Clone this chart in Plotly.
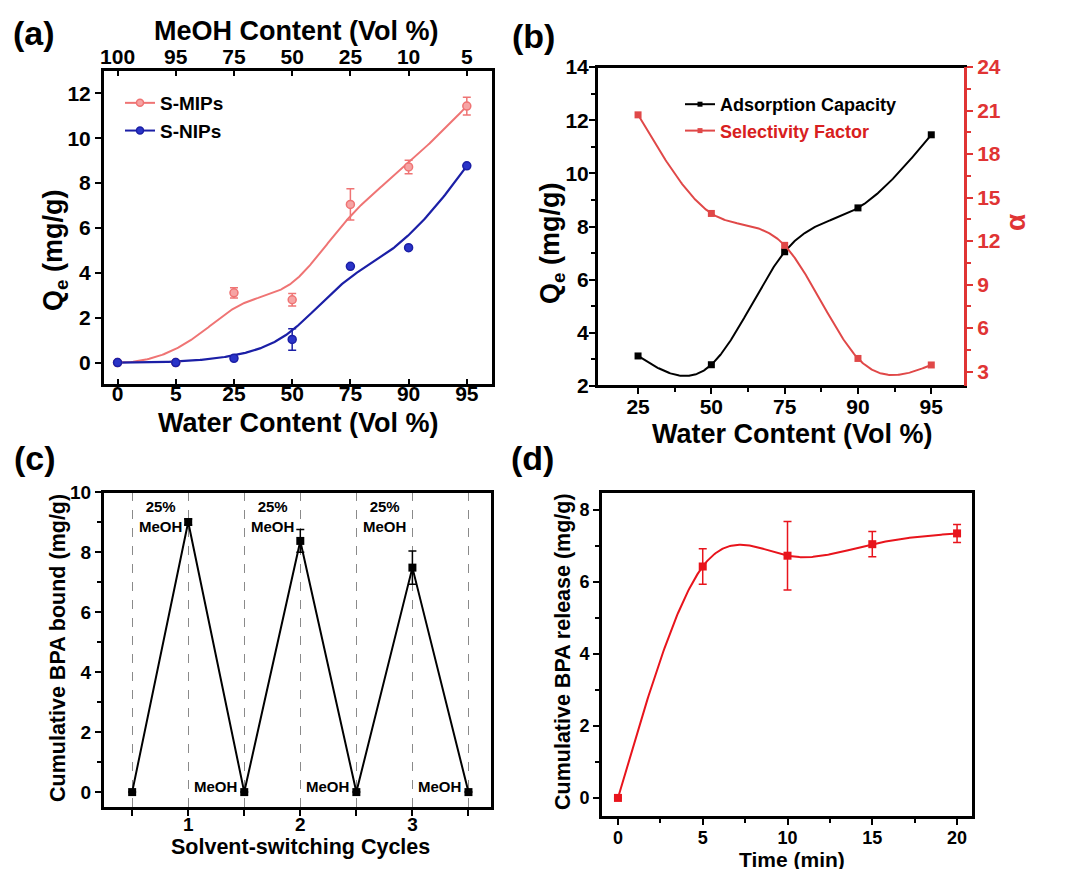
import numpy as np
import plotly.graph_objects as go

# ---------------- data ----------------
# (a)
water_a = ["0", "5", "25", "50", "75", "90", "95"]
meoh_a = ["100", "95", "75", "50", "25", "10", "5"]
mips = [0.0, 0.0, 3.11, 2.80, 7.05, 8.72, 11.43]
mips_err = [0.0, 0.0, 0.23, 0.28, 0.70, 0.30, 0.40]
nips = [0.0, 0.0, 0.19, 1.03, 4.29, 5.12, 8.77]
nips_err = [0.0, 0.0, 0.08, 0.48, 0.0, 0.0, 0.0]

# (b)
water_b = ["25", "50", "75", "90", "95"]
ads_cap = [3.13, 2.80, 7.05, 8.70, 11.45]
sel_factor = [20.7, 13.9, 11.7, 3.9, 3.45]

# (c)
cycle_x = [0.5, 1.0, 1.5, 2.0, 2.5, 3.0, 3.5]
bpa_bound = [0.0, 9.0, 0.0, 8.37, 0.0, 7.48, 0.0]
bpa_bound_err = [0.0, 0.1, 0.0, 0.38, 0.0, 0.55, 0.0]
cycle_ticks = ["", "1", "", "2", "", "3", ""]

# (d)
time_min = [0, 5, 10, 15, 20]
bpa_release = [0.0, 6.43, 6.73, 7.05, 7.35]
bpa_release_err = [0.0, 0.49, 0.95, 0.35, 0.25]

# ---------------- helpers ----------------
FONT = "Liberation Sans, Arial, Helvetica, sans-serif"
W, H = 1065, 869


def px(x):
    return x / W


def py(y):
    return 1 - y / H


def natural_spline(x, y, n=300):
    x = np.asarray(x, float)
    y = np.asarray(y, float)
    N = len(x)
    h = np.diff(x)
    A = np.zeros((N, N))
    b = np.zeros(N)
    A[0, 0] = A[-1, -1] = 1
    for i in range(1, N - 1):
        A[i, i - 1] = h[i - 1]
        A[i, i] = 2 * (h[i - 1] + h[i])
        A[i, i + 1] = h[i]
        b[i] = 6 * ((y[i + 1] - y[i]) / h[i] - (y[i] - y[i - 1]) / h[i - 1])
    M = np.linalg.solve(A, b)
    xs = np.linspace(x[0], x[-1], n)
    idx = np.clip(np.searchsorted(x, xs) - 1, 0, N - 2)
    x0, x1 = x[idx], x[idx + 1]
    hh = x1 - x0
    ys = (M[idx] * (x1 - xs) ** 3 + M[idx + 1] * (xs - x0) ** 3) / (6 * hh) \
        + (y[idx] / hh - M[idx] * hh / 6) * (x1 - xs) \
        + (y[idx + 1] / hh - M[idx + 1] * hh / 6) * (xs - x0)
    return xs, ys


def bspline(pxs, pys, n=300, k=3):
    P = np.column_stack([pxs, pys]).astype(float)
    m = len(P)
    knots = np.concatenate([np.zeros(k), np.arange(m - k + 1), np.full(k, m - k)]).astype(float)
    ts = np.linspace(0, m - k, n)
    ts[-1] -= 1e-9
    out = []
    for t in ts:
        Nb = np.array([1.0 if knots[i] <= t < knots[i + 1] else 0.0 for i in range(len(knots) - 1)])
        for d in range(1, k + 1):
            Nn = np.zeros(len(knots) - 1 - d)
            for i in range(len(Nn)):
                a = 0.0
                c = 0.0
                if knots[i + d] != knots[i]:
                    a = (t - knots[i]) / (knots[i + d] - knots[i]) * Nb[i]
                if knots[i + d + 1] != knots[i + 1]:
                    c = (knots[i + d + 1] - t) / (knots[i + d + 1] - knots[i + 1]) * Nb[i + 1]
                Nn[i] = a + c
            Nb = Nn
        out.append(Nb @ P)
    out = np.array(out)
    return out[:, 0], out[:, 1]


def tf(size, color="black"):
    return dict(family=FONT, size=size, color=color, weight="bold")


def ax(**kw):
    base = dict(showline=True, linecolor="black", linewidth=2, ticks="outside", ticklen=6,
                tickwidth=2, tickcolor="black", showgrid=False, zeroline=False,
                automargin=False, tickfont=tf(21))
    base.update(kw)
    return base


PINK = "#ef7474"
PINK_FILL = "#f6a4a4"
BLUE = "#1b1fa6"
RED_B = "#e04848"
RED_AX = "#e03434"
RED_D = "#e8141c"

fig = go.Figure()

# ---------------- (a) ----------------
idx_a = list(range(len(water_a)))
bx, by = bspline(idx_a, mips)
fig.add_trace(go.Scatter(x=bx, y=by, mode="lines", line=dict(color=PINK, width=2),
                         xaxis="x", yaxis="y", showlegend=False, hoverinfo="skip"))
bx2, by2 = bspline(idx_a, nips)
fig.add_trace(go.Scatter(x=bx2, y=by2, mode="lines", line=dict(color=BLUE, width=2.2),
                         xaxis="x", yaxis="y", showlegend=False, hoverinfo="skip"))
fig.add_trace(go.Scatter(x=idx_a, y=mips, mode="markers",
                         marker=dict(symbol="circle", size=8, color=PINK_FILL, line=dict(color=PINK, width=1.5)),
                         error_y=dict(type="data", array=mips_err, color=PINK, thickness=1.5, width=4),
                         xaxis="x", yaxis="y", showlegend=False))
fig.add_trace(go.Scatter(x=idx_a, y=nips, mode="markers",
                         marker=dict(symbol="circle", size=8, color="#2a34c8", line=dict(color=BLUE, width=1.5)),
                         error_y=dict(type="data", array=nips_err, color=BLUE, thickness=1.5, width=4),
                         xaxis="x", yaxis="y", showlegend=False))
# legend entries
fig.add_trace(go.Scatter(x=[None], y=[None], mode="lines+markers", name="S-MIPs",
                         line=dict(color=PINK, width=2),
                         marker=dict(symbol="circle", size=7, color=PINK_FILL, line=dict(color=PINK, width=1.5)),
                         xaxis="x", yaxis="y", legend="legend"))
fig.add_trace(go.Scatter(x=[None], y=[None], mode="lines+markers", name="S-NIPs",
                         line=dict(color=BLUE, width=2),
                         marker=dict(symbol="circle", size=7, color="#2a34c8", line=dict(color=BLUE, width=1.5)),
                         xaxis="x", yaxis="y", legend="legend"))
# top axis holder
fig.add_trace(go.Scatter(x=idx_a, y=[None] * len(idx_a), mode="markers", xaxis="x2", yaxis="y",
                         showlegend=False, hoverinfo="skip"))

# ---------------- (b) ----------------
idx_b = list(range(len(water_b)))
sx, sy = natural_spline(idx_b, ads_cap)
fig.add_trace(go.Scatter(x=sx, y=sy, mode="lines", line=dict(color="black", width=2),
                         xaxis="x3", yaxis="y3", showlegend=False, hoverinfo="skip"))
fig.add_trace(go.Scatter(x=idx_b, y=ads_cap, mode="markers",
                         marker=dict(symbol="square", size=7, color="black"),
                         xaxis="x3", yaxis="y3", showlegend=False))
sx2, sy2 = natural_spline(idx_b, sel_factor)
fig.add_trace(go.Scatter(x=sx2, y=sy2, mode="lines", line=dict(color=RED_B, width=2),
                         xaxis="x3", yaxis="y4", showlegend=False, hoverinfo="skip"))
fig.add_trace(go.Scatter(x=idx_b, y=sel_factor, mode="markers",
                         marker=dict(symbol="square", size=7, color=RED_B),
                         xaxis="x3", yaxis="y4", showlegend=False))
fig.add_trace(go.Scatter(x=[None], y=[None], mode="lines+markers", name="Adsorption Capacity",
                         line=dict(color="black", width=2), marker=dict(symbol="square", size=5, color="black"),
                         xaxis="x3", yaxis="y3", legend="legend2"))
fig.add_trace(go.Scatter(x=[None], y=[None], mode="lines+markers",
                         name="<span style='color:#d82020'>Selectivity Factor</span>",
                         line=dict(color=RED_B, width=2), marker=dict(symbol="square", size=5, color=RED_B),
                         xaxis="x3", yaxis="y4", legend="legend2"))

# ---------------- (c) ----------------
fig.add_trace(go.Scatter(x=cycle_x, y=bpa_bound, mode="lines+markers",
                         line=dict(color="black", width=2),
                         marker=dict(symbol="square", size=8, color="black"),
                         error_y=dict(type="data", array=bpa_bound_err, color="black", thickness=1.5, width=4),
                         xaxis="x4", yaxis="y5", showlegend=False))

# ---------------- (d) ----------------
dx, dy = natural_spline(time_min, bpa_release)
fig.add_trace(go.Scatter(x=dx, y=dy, mode="lines", line=dict(color=RED_D, width=2),
                         xaxis="x5", yaxis="y6", showlegend=False, hoverinfo="skip"))
fig.add_trace(go.Scatter(x=time_min, y=bpa_release, mode="markers",
                         marker=dict(symbol="square", size=8, color=RED_D),
                         error_y=dict(type="data", array=bpa_release_err, color=RED_D, thickness=1.5, width=4),
                         xaxis="x5", yaxis="y6", showlegend=False))

# ---------------- layout ----------------
minor_k = dict(ticklen=4, tickwidth=1.5, tickcolor="black")
layout = dict(
    width=W, height=H, autosize=False,
    margin=dict(l=0, r=0, t=0, b=0),
    paper_bgcolor="white", plot_bgcolor="white",
    font=dict(family=FONT, color="black"),
    # (a)
    xaxis=ax(domain=[px(103), px(493)], anchor="y", range=[-0.25, 6.45],
             tickmode="array", tickvals=idx_a, ticktext=water_a, ticks="inside", ticklen=6,
             ticklabelstandoff=-11),
    xaxis2=ax(overlaying="x", side="top", anchor="y", range=[-0.25, 6.45],
              tickmode="array", tickvals=idx_a, ticktext=meoh_a, ticks="inside", ticklen=6,
              ticklabelstandoff=-4),
    yaxis=ax(domain=[py(385), py(70)], anchor="x", range=[-1.0, 13.04],
             tickmode="array", tickvals=[0, 2, 4, 6, 8, 10, 12], mirror=True),
    # (b)
    xaxis3=ax(domain=[px(597), px(965)], anchor="y3", range=[-0.56, 4.46],
              tickmode="array", tickvals=idx_b, ticktext=water_b, mirror=True, ticklabelstandoff=-5,
              minor=dict(tickmode="array", tickvals=[0.5, 1.5, 2.5, 3.5], **minor_k)),
    yaxis3=ax(domain=[py(386), py(67)], anchor="x3", range=[2, 14], tickmode="linear", tick0=2, dtick=2,
              ticklabelstandoff=-4,
              minor=dict(tickmode="linear", tick0=1, dtick=1, **minor_k)),
    yaxis4=ax(overlaying="y3", side="right", anchor="x3", range=[2, 24], tickmode="linear", tick0=3, dtick=3,
              linecolor=RED_AX, tickcolor=RED_AX, tickfont=tf(21, RED_AX),
              minor=dict(tickmode="linear", tick0=1.5, dtick=1.5, ticklen=4, tickwidth=1.5, tickcolor=RED_AX)),
    # (c)
    xaxis4=ax(domain=[px(103), px(492)], anchor="y5", range=[0.24, 3.71],
              tickmode="array", tickvals=cycle_x, ticktext=cycle_ticks, mirror=True,
              showgrid=True, gridcolor="#8a8a8a", gridwidth=1, griddash="dash", tickfont=tf(19),
              ticklabelstandoff=-8),
    yaxis5=ax(domain=[py(808), py(492)], anchor="x4", range=[-0.53, 10], tickmode="linear", tick0=0, dtick=2,
              mirror=True, tickfont=tf(19),
              minor=dict(tickmode="linear", tick0=0, dtick=1, **minor_k)),
    # (d)
    xaxis5=ax(domain=[px(601), px(973)], anchor="y6", range=[-1, 20.94], tickmode="linear", tick0=0, dtick=5,
              mirror=True, tickfont=tf(18), ticklabelstandoff=-3,
              minor=dict(tickmode="linear", tick0=0, dtick=2.5, **minor_k)),
    yaxis6=ax(domain=[py(817), py(492)], anchor="x5", range=[-0.53, 8.5], tickmode="linear", tick0=0, dtick=2,
              mirror=True, tickfont=tf(18),
              minor=dict(tickmode="linear", tick0=0, dtick=1, **minor_k)),
    legend=dict(x=px(120), y=py(84), xanchor="left", yanchor="top", font=tf(19),
                bgcolor="rgba(0,0,0,0)", tracegroupgap=0, itemwidth=30),
    legend2=dict(x=px(680), y=py(86), xanchor="left", yanchor="top", font=tf(18),
                 bgcolor="rgba(0,0,0,0)", tracegroupgap=0, itemwidth=30),
)

ann = []


def add_text(text, x, y, size, color="black", angle=0, xref="paper", yref="paper"):
    ann.append(dict(text=text, x=x, y=y, xref=xref, yref=yref, showarrow=False,
                    xanchor="center", yanchor="middle", textangle=angle,
                    font=tf(size, color)))


# panel labels
add_text("(a)", px(34), py(33), 34)
add_text("(b)", px(533), py(36), 34)
add_text("(c)", px(35), py(458), 34)
add_text("(d)", px(532), py(458), 34)

# axis titles
add_text("MeOH Content (Vol %)", px(296), py(31), 27)
add_text("Water Content (Vol %)", px(298), py(423), 27)
add_text("Q<sub>e</sub> (mg/g)", px(55), py(250), 27, angle=-90)
add_text("Q<sub>e</sub> (mg/g)", px(552), py(243), 27, angle=-90)
add_text("α", px(1015), py(223), 28, color=RED_AX, angle=-90)
add_text("Water Content (Vol %)", px(792), py(434), 27)
add_text("Cumulative BPA bound (mg/g)", px(58), py(648), 21.5, angle=-90)
add_text("Solvent-switching Cycles", px(300), py(847), 21.5)
add_text("Cumulative BPA release (mg/g)", px(563), py(652), 21.5, angle=-90)
add_text("Time (min)", px(792), py(859), 21)

# (c) in-plot labels, placed beside peaks/troughs
for xv, yv in zip(cycle_x, bpa_bound):
    if yv > 0:
        add_text("25%<br>MeOH", xv - 0.245, 9.2, 15, xref="x4", yref="y5")
    elif xv > 1:
        add_text("MeOH", xv - 0.26, 0.2, 15, xref="x4", yref="y5")

# frames around each plot area
shapes = []
for xr, yr in [("x", "y"), ("x3", "y3"), ("x4", "y5"), ("x5", "y6")]:
    shapes.append(dict(type="rect", xref=xr + " domain", yref=yr + " domain", x0=0, x1=1, y0=0, y1=1,
                       line=dict(color="black", width=2), layer="above"))
shapes.append(dict(type="line", xref="x3 domain", yref="y3 domain", x0=1, x1=1, y0=0, y1=1,
                   line=dict(color=RED_AX, width=2), layer="above"))

layout["annotations"] = ann
layout["shapes"] = shapes
fig.update_layout(**layout)

fig.write_html("out.html", config={"displayModeBar": False},
               post_script="document.body.style.margin='0px';document.body.style.padding='0px';"
                           "document.body.style.overflow='hidden';")
